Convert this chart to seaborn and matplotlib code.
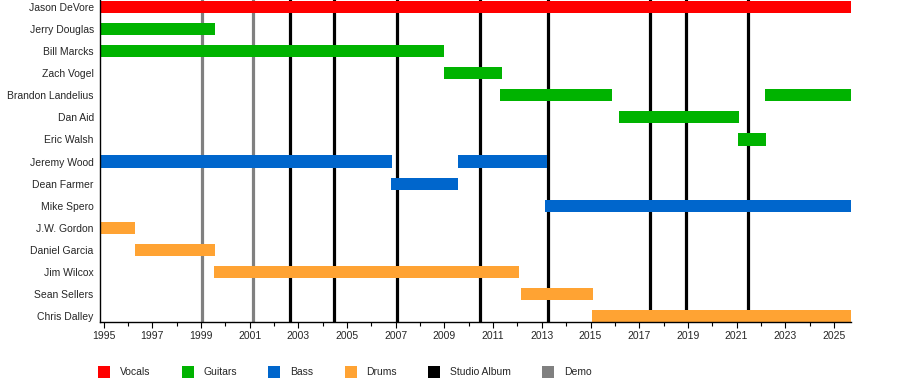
import matplotlib
matplotlib.use('Agg')

import matplotlib.pyplot as plt
from matplotlib.patches import Patch
import seaborn as sns

# Members, top to bottom
members = ["Jason DeVore", "Jerry Douglas", "Bill Marcks", "Zach Vogel",
           "Brandon Landelius", "Dan Aid", "Eric Walsh", "Jeremy Wood",
           "Dean Farmer", "Mike Spero", "J.W. Gordon", "Daniel Garcia",
           "Jim Wilcox", "Sean Sellers", "Chris Dalley"]

# One entry per bar (a member can have several stints)
bar_member = ["Jason DeVore", "Jerry Douglas", "Bill Marcks", "Zach Vogel",
              "Brandon Landelius", "Brandon Landelius", "Dan Aid", "Eric Walsh",
              "Jeremy Wood", "Jeremy Wood", "Dean Farmer", "Mike Spero",
              "J.W. Gordon", "Daniel Garcia", "Jim Wilcox", "Sean Sellers",
              "Chris Dalley"]
bar_role = ["Vocals", "Guitars", "Guitars", "Guitars",
            "Guitars", "Guitars", "Guitars", "Guitars",
            "Bass", "Bass", "Bass", "Bass",
            "Drums", "Drums", "Drums", "Drums",
            "Drums"]
bar_start = [1994.85, 1994.85, 1994.85, 2009.0,
             2011.3, 2022.15, 2016.15, 2021.05,
             1994.85, 2009.55, 2006.8, 2013.15,
             1994.85, 1996.3, 1999.55, 2012.15,
             2015.05]
bar_end = [2025.7, 1999.57, 2009.0, 2011.35,
           2015.9, 2025.7, 2021.1, 2022.2,
           2006.85, 2013.2, 2009.57, 2025.7,
           1996.3, 1999.57, 2012.08, 2015.12,
           2025.7]

studio_albums = [2002.65, 2004.47, 2007.07, 2010.44, 2013.26, 2017.44, 2018.91, 2021.47]
demos = [1999.03, 2001.13]

role_colors = {"Vocals": "#ff0000", "Guitars": "#00b300", "Bass": "#0066cc",
               "Drums": "#ffa333"}
legend_labels = ["Vocals", "Guitars", "Bass", "Drums", "Studio Album", "Demo"]
legend_colors = ["#ff0000", "#00b300", "#0066cc", "#ffa333", "#000000", "#808080"]

sns.set_theme(style="white")
plt.rcParams['font.family'] = ['Liberation Sans', 'DejaVu Sans']

fig = plt.figure(figsize=(9, 3.82), dpi=100)
ax = fig.add_axes([100 / 900, 1 - 322 / 382, 751 / 900, 322 / 382])

row = {m: i for i, m in enumerate(members)}

# release lines behind the bars
for x in studio_albums:
    ax.axvline(x, color="black", lw=2.3, zorder=1)
for x in demos:
    ax.axvline(x, color="#808080", lw=2.3, zorder=1)

for m, r, s, e in zip(bar_member, bar_role, bar_start, bar_end):
    ax.barh(row[m], e - s, left=s, height=0.55, color=role_colors[r],
            linewidth=0, zorder=2)

ax.set_xlim(1994.85, 2025.7)
ax.set_ylim(14.27, -0.32)
ax.set_yticks(range(len(members)))
ax.set_yticklabels(members, fontsize=7.5)
ax.tick_params(axis="y", length=0, pad=4.5)

ax.set_xticks(range(1995, 2026, 2))
ax.set_xticklabels([str(y) for y in range(1995, 2026, 2)], fontsize=7.5)
ax.set_xticks(range(1996, 2026, 2), minor=True)
ax.tick_params(axis="x", which="major", bottom=True, length=4.3, width=0.8,
               color="black", pad=2.5)
ax.tick_params(axis="x", which="minor", bottom=True, length=2.9, width=0.8,
               color="black")

sns.despine(ax=ax)
for side in ["left", "bottom"]:
    ax.spines[side].set_color("black")
    ax.spines[side].set_linewidth(1.0)
ax.grid(False)

handles = [Patch(facecolor=c, edgecolor="none") for c in legend_colors]
fig.legend(handles, legend_labels, loc="center left",
           bbox_to_anchor=(98 / 900, 1 - 372 / 382), ncol=6, frameon=False,
           fontsize=7.5, handlelength=1.15, handleheight=1.4,
           handletextpad=0.95, columnspacing=3.0, borderaxespad=0,
           borderpad=0)

fig.savefig("out.png", dpi=100)
plt.close(fig)
